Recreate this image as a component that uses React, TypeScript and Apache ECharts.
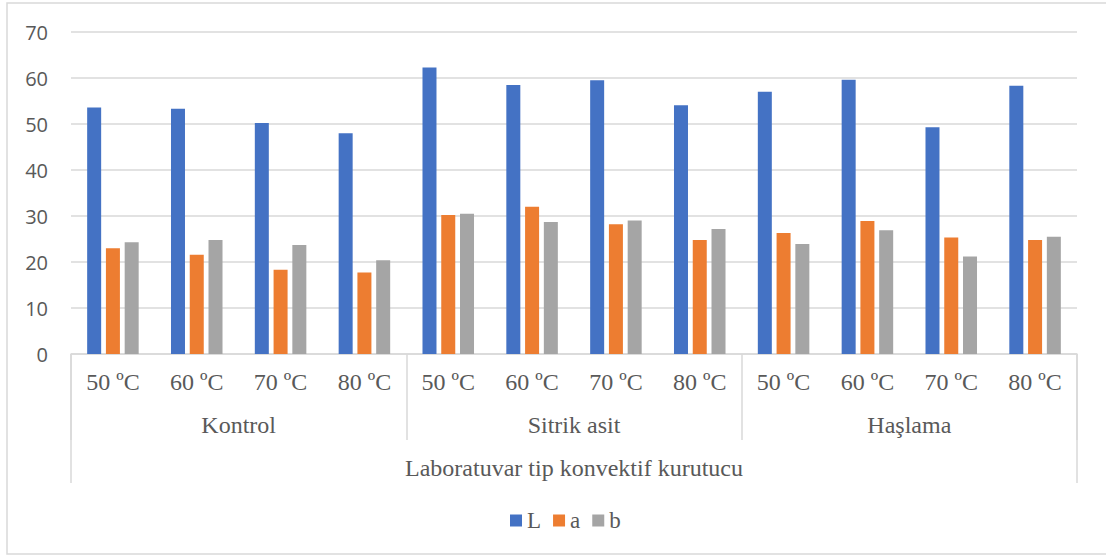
import React, { useEffect, useRef } from "react";
import * as echarts from "echarts";

// Drying temperatures (inner axis level), repeated for each pre-treatment
const temperatures = [
  "50 ºC", "60 ºC", "70 ºC", "80 ºC",
  "50 ºC", "60 ºC", "70 ºC", "80 ºC",
  "50 ºC", "60 ºC", "70 ºC", "80 ºC",
];
// Pre-treatment groups (middle axis level)
const treatments = ["Kontrol", "Sitrik asit", "Haşlama"];
// Dryer type (outer axis level)
const dryers = ["Laboratuvar tip konvektif kurutucu"];

// Colour parameters
const valuesL = [53.6, 53.3, 50.2, 48.0, 62.3, 58.5, 59.5, 54.1, 57.0, 59.6, 49.3, 58.3];
const valuesA = [23.0, 21.6, 18.3, 17.7, 30.2, 32.0, 28.2, 24.8, 26.3, 28.9, 25.3, 24.8];
const valuesB = [24.3, 24.8, 23.7, 20.4, 30.5, 28.7, 29.0, 27.2, 23.9, 26.9, 21.2, 25.5];

const seriesNames = ["L", "a", "b"];
const seriesColors = ["#4472C4", "#ED7D31", "#A5A5A5"];

const GRID = "#d9d9d9";
const TEXT = "#595959";
const SERIF = "'Liberation Serif', 'Times New Roman', serif";

export default function App() {
  const ref = useRef<HTMLDivElement>(null);

  useEffect(() => {
    if (!ref.current) return;
    const chart = echarts.init(ref.current, null, { renderer: "svg" });
    const dataSets = [valuesL, valuesA, valuesB];

    chart.setOption({
      animation: false,
      backgroundColor: "#ffffff",
      grid: { left: 71, right: 29, top: 32, bottom: 204, containLabel: false },
      legend: {
        left: 505,
        top: 504,
        itemWidth: 12,
        itemHeight: 12,
        itemGap: 12,
        icon: "rect",
        data: seriesNames,
        textStyle: { fontFamily: SERIF, fontSize: 23, color: TEXT },
      },
      xAxis: [
        {
          type: "category",
          position: "bottom",
          data: temperatures,
          axisLine: { show: true, lineStyle: { color: GRID, width: 1.5 } },
          axisTick: { show: false },
          axisLabel: {
            interval: 0,
            margin: 16,
            fontFamily: SERIF,
            fontSize: 24,
            color: TEXT,
          },
        },
        {
          type: "category",
          position: "bottom",
          data: treatments,
          axisLine: { show: false },
          axisTick: {
            show: true,
            interval: 0,
            length: 86,
            lineStyle: { color: GRID, width: 1.5 },
          },
          axisLabel: {
            interval: 0,
            margin: 59,
            fontFamily: SERIF,
            fontSize: 24,
            color: TEXT,
          },
        },
        {
          type: "category",
          position: "bottom",
          data: dryers,
          axisLine: { show: false },
          axisTick: {
            show: true,
            interval: 0,
            length: 129,
            lineStyle: { color: GRID, width: 1.5 },
          },
          axisLabel: {
            interval: 0,
            margin: 102,
            fontFamily: SERIF,
            fontSize: 24,
            color: TEXT,
          },
        },
      ],
      yAxis: {
        type: "value",
        min: 0,
        max: 70,
        interval: 10,
        axisLine: { show: false },
        axisTick: { show: false },
        splitLine: { lineStyle: { color: GRID, width: 1.5 } },
        axisLabel: {
          margin: 23,
          fontFamily: "'Open Sans', 'Noto Sans', sans-serif",
          fontSize: 20,
          color: TEXT,
        },
      },
      series: seriesNames.map((name, i) => ({
        name,
        type: "bar",
        xAxisIndex: 0,
        data: dataSets[i],
        barWidth: 14,
        barGap: "34%",
        itemStyle: { color: seriesColors[i] },
      })),
      graphic: [
        {
          type: "rect",
          silent: true,
          shape: { x: 7, y: 3, width: 1120, height: 551 },
          style: { fill: "none", stroke: GRID, lineWidth: 1.5 },
          z: -1,
        },
      ],
    });

    return () => chart.dispose();
  }, []);

  return (
    <div
      ref={ref}
      style={{ position: "absolute", left: 0, top: 0, width: 1106, height: 558 }}
    />
  );
}
